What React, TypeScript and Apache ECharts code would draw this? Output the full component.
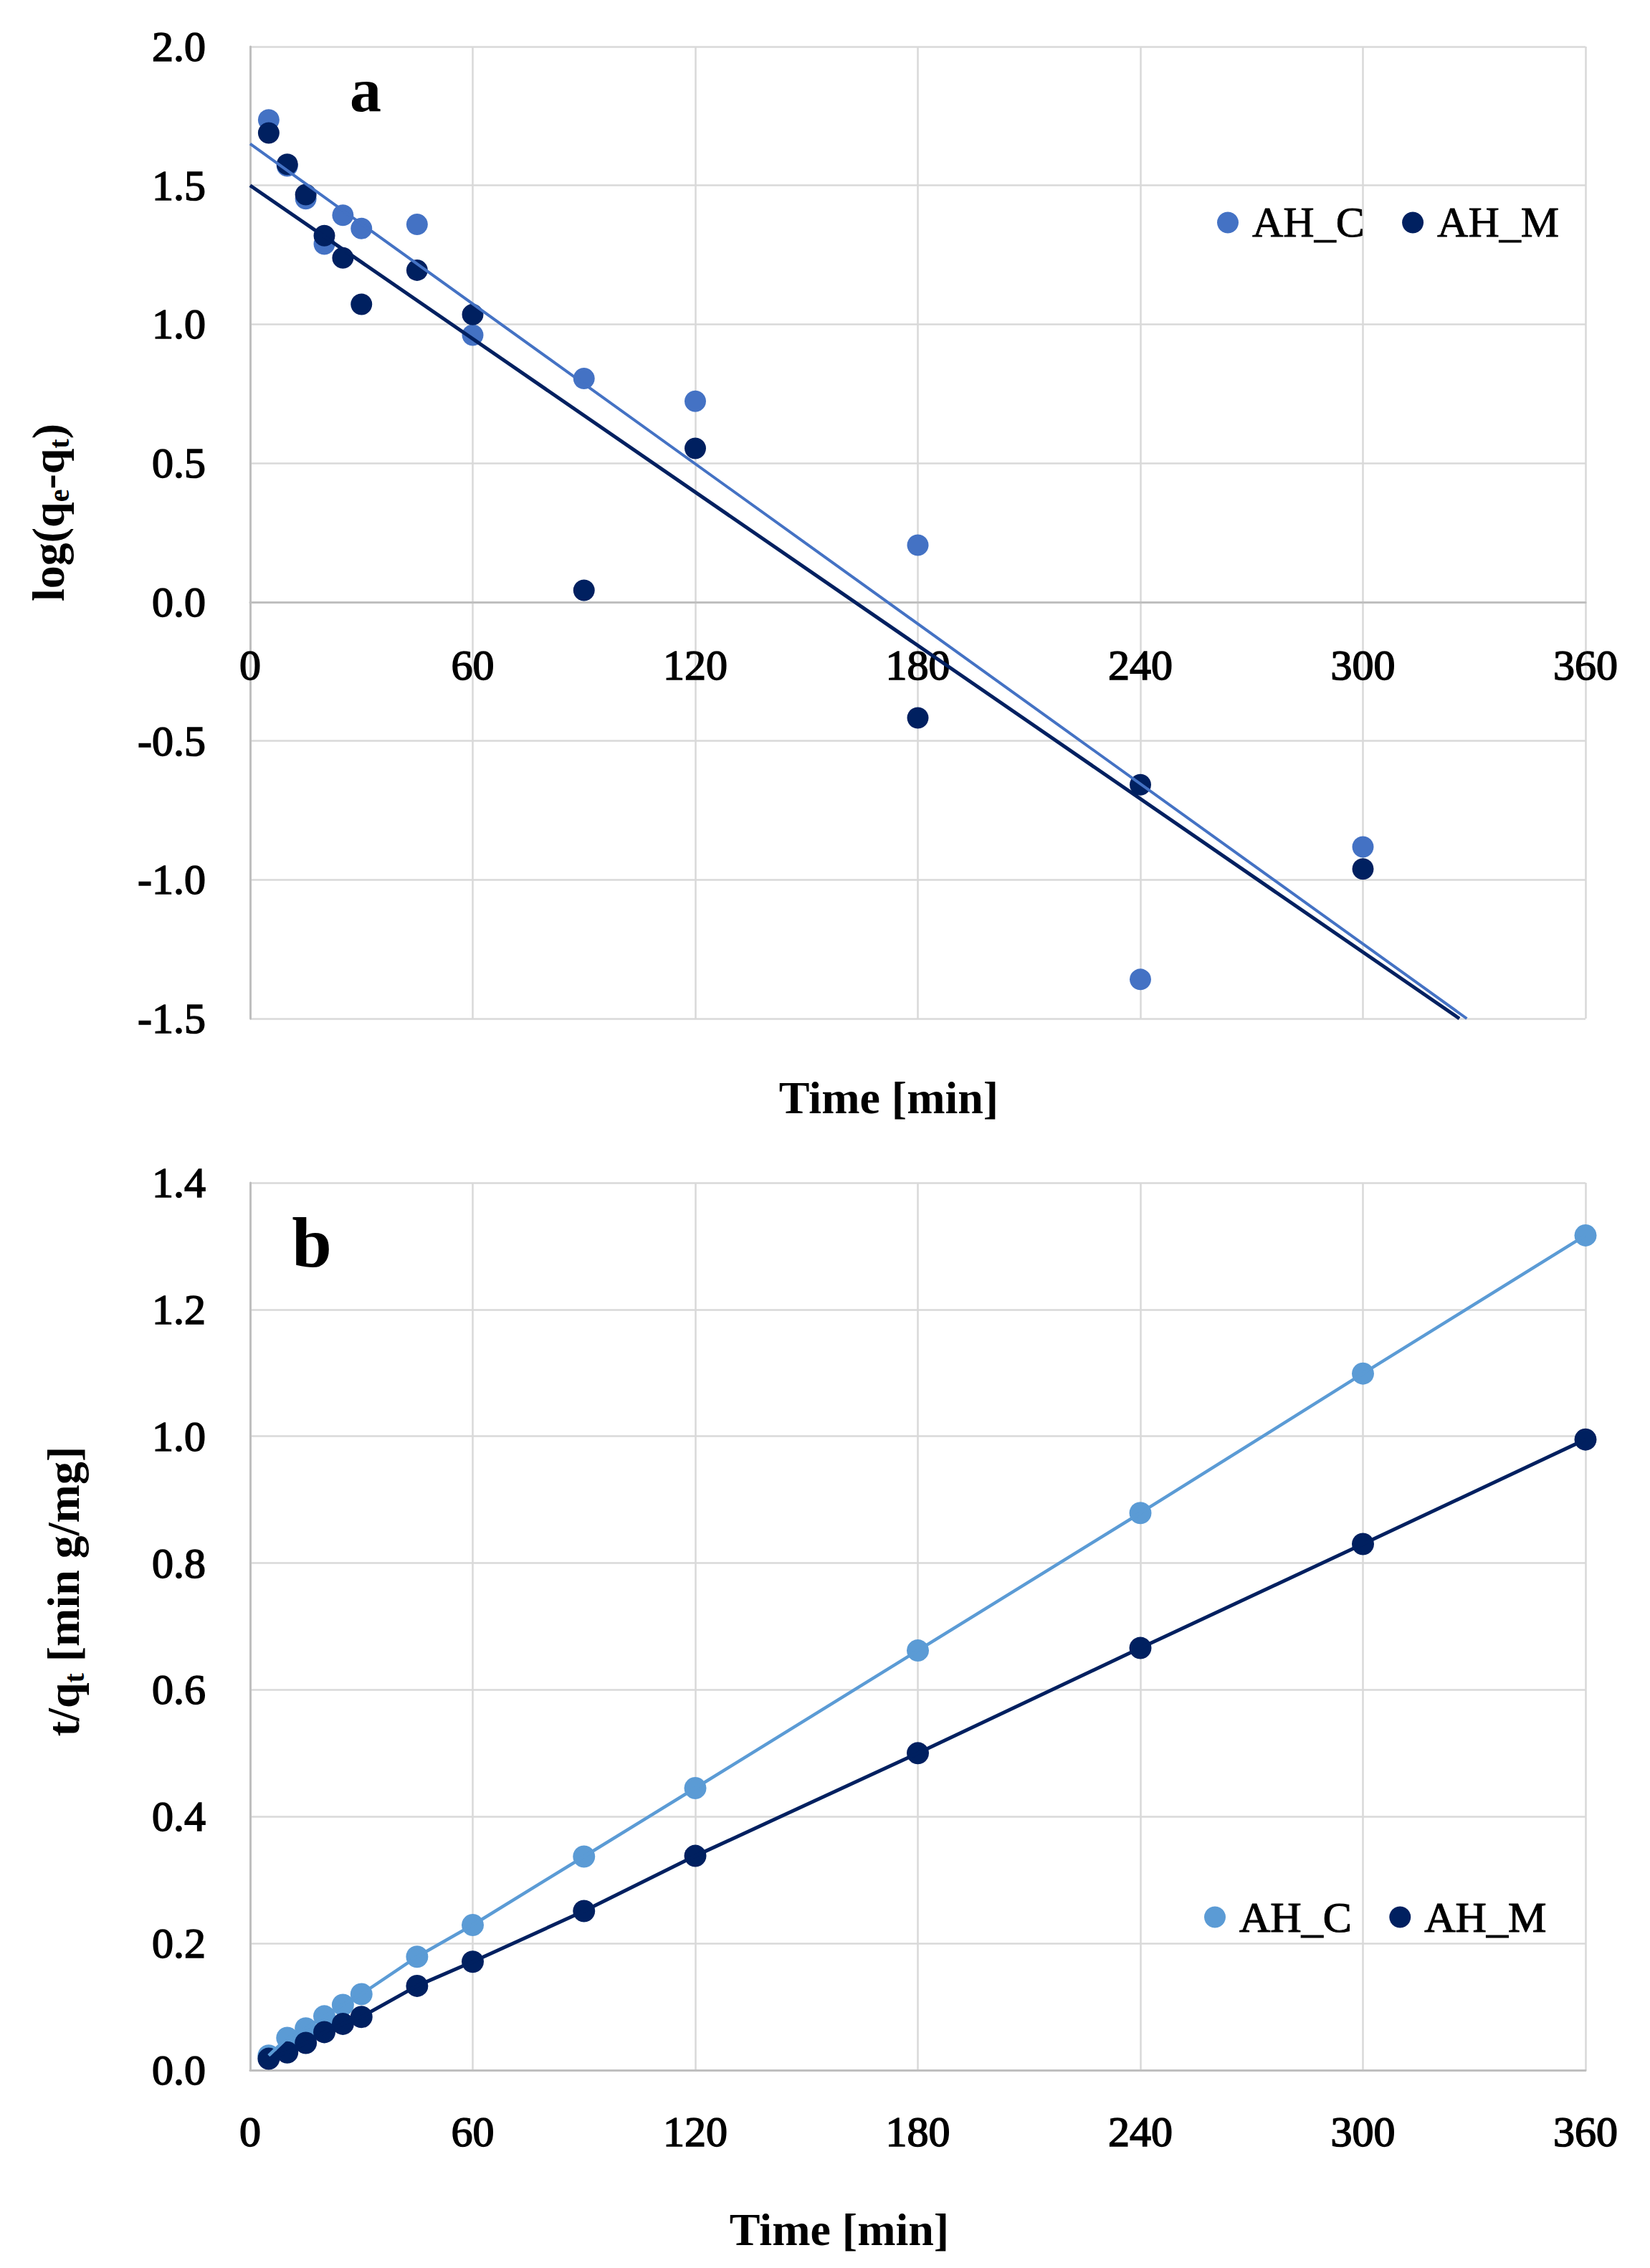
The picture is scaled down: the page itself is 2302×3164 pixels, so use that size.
import React, { useEffect, useRef } from "react";
import * as echarts from "echarts";

// ---------- Panel a: pseudo-first-order, log(qe - qt) ----------
const timesA = [5, 10, 15, 20, 25, 30, 45, 60, 90, 120, 180, 240, 300];
const logAHC = [1.736, 1.57, 1.452, 1.289, 1.393, 1.345, 1.36, 0.961, 0.805, 0.723, 0.205, -1.359, -0.882];
const logAHM = [1.689, 1.576, 1.467, 1.319, 1.239, 1.072, 1.195, 1.035, 0.042, 0.553, -0.417, -0.658, -0.961];
// linear trend lines (start / end)
const trendCX = [0, 328];
const trendCY = [1.65, -1.5];
const trendMX = [0, 326];
const trendMY = [1.5, -1.5];

// ---------- Panel b: pseudo-second-order, t/qt ----------
const timesB = [5, 10, 15, 20, 25, 30, 45, 60, 90, 120, 180, 240, 300, 360];
const tqAHC = [0.023, 0.051, 0.066, 0.085, 0.103, 0.12, 0.179, 0.229, 0.337, 0.445, 0.662, 0.879, 1.099, 1.317];
const tqAHM = [0.018, 0.028, 0.043, 0.06, 0.073, 0.084, 0.133, 0.171, 0.251, 0.338, 0.5, 0.666, 0.83, 0.995];

const xTicks = [0, 60, 120, 180, 240, 300, 360];
const yTicksA = [-1.5, 2.0, 0.5];
const yTicksB = [0, 1.4, 0.2];

const FONT = "Liberation Serif";
const C_A = "#4472C4";
const C_B = "#5B9BD5";
const C_M = "#002060";
const GRID_C = "#d9d9d9";
const AXIS_C = "#bfbfbf";

const pairs = (xs: number[], ys: number[]) => xs.map((x, i) => [x, ys[i]]);

export default function App() {
  const ref = useRef<HTMLDivElement>(null);
  useEffect(() => {
    if (!ref.current) return;
    const chart = echarts.init(ref.current, null, { renderer: "svg" });
    const tickLabel = {
      fontFamily: FONT, fontSize: 60, color: "#000",
      textBorderColor: "#000", textBorderWidth: 1.6,
    };
    const xAxisBase = (gridIndex: number, margin: number, showLabel: boolean) => ({
      type: "value",
      gridIndex,
      min: xTicks[0],
      max: xTicks[xTicks.length - 1],
      interval: xTicks[1] - xTicks[0],
      axisLine: { show: true, onZero: true, lineStyle: { color: AXIS_C, width: 3 } },
      axisTick: { show: false },
      axisLabel: { ...tickLabel, margin, show: showLabel },
      splitLine: { show: true, lineStyle: { color: GRID_C, width: 2.5 } },
    });
    const yAxisBase = (gridIndex: number, t: number[]) => ({
      type: "value",
      gridIndex,
      min: t[0],
      max: t[1],
      interval: t[2],
      axisLine: { show: true, onZero: false, lineStyle: { color: AXIS_C, width: 3 } },
      axisTick: { show: false },
      axisLabel: { ...tickLabel, margin: 62, formatter: (v: number) => v.toFixed(1) },
      splitLine: { show: true, lineStyle: { color: GRID_C, width: 2.5 } },
    });
    const legendBase = (left: number, top: number, cC: string, bw: number) => ({
      left,
      top,
      orient: "horizontal",
      padding: 0,
      itemWidth: 30,
      itemHeight: 30,
      itemGap: 52,
      textStyle: {
        fontFamily: FONT, fontSize: 60, color: "#000", padding: [0, 0, 0, 14], lineHeight: 60,
        textBorderColor: "#000", textBorderWidth: bw,
      },
      selectedMode: false,
      data: [
        { name: "AH_C", icon: "circle", itemStyle: { color: cC } },
        { name: "AH_M", icon: "circle", itemStyle: { color: C_M } },
      ],
    });
    const subRich = {
      s: { fontFamily: FONT, fontSize: 40, fontWeight: "bold", fill: "#000", padding: [30, 0, 0, 0] },
    };
    const titleStyle = (text: string) => ({
      text,
      fontFamily: FONT,
      fontSize: 64,
      fontWeight: "bold",
      fill: "#000",
      align: "center",
      verticalAlign: "middle",
      rich: subRich,
    });
    const option: any = {
      animation: false,
      backgroundColor: "#fff",
      grid: [
        { left: 349, top: 65, width: 1863, height: 1356, containLabel: false },
        { left: 349, top: 1650, width: 1863, height: 1238, containLabel: false },
        // label-only grid whose bottom edge sits on the zero line of panel a
        { left: 349, top: 65, width: 1863, height: 775, containLabel: false },
      ],
      xAxis: [
        xAxisBase(0, 58, false),
        xAxisBase(1, 56, true),
        {
          ...xAxisBase(2, 58, true),
          axisLine: { show: false },
          splitLine: { show: false },
        },
      ],
      yAxis: [
        yAxisBase(0, yTicksA),
        yAxisBase(1, yTicksB),
        { type: "value", gridIndex: 2, min: 0, max: 1, show: false },
      ],
      legend: [legendBase(1698, 280, C_A, 0.8), legendBase(1680, 2644, C_B, 1.2)],
      series: [
        {
          type: "scatter", name: "AH_C", xAxisIndex: 0, yAxisIndex: 0,
          data: pairs(timesA, logAHC), symbol: "circle", symbolSize: 30,
          itemStyle: { color: C_A, opacity: 1 }, z: 2,
        },
        {
          type: "scatter", name: "AH_M", xAxisIndex: 0, yAxisIndex: 0,
          data: pairs(timesA, logAHM), symbol: "circle", symbolSize: 30,
          itemStyle: { color: C_M, opacity: 1 }, z: 2,
        },
        {
          type: "line", name: "trend C", xAxisIndex: 0, yAxisIndex: 0,
          data: pairs(trendCX, trendCY), symbol: "none", silent: true,
          lineStyle: { color: C_A, width: 4 }, z: 3,
        },
        {
          type: "line", name: "trend M", xAxisIndex: 0, yAxisIndex: 0,
          data: pairs(trendMX, trendMY), symbol: "none", silent: true,
          lineStyle: { color: C_M, width: 5 }, z: 3,
        },
        {
          type: "scatter", name: "AH_C", xAxisIndex: 1, yAxisIndex: 1,
          data: pairs(timesB, tqAHC), symbol: "circle", symbolSize: 31,
          itemStyle: { color: C_B, opacity: 1 }, z: 2,
        },
        {
          type: "scatter", name: "AH_M", xAxisIndex: 1, yAxisIndex: 1,
          data: pairs(timesB, tqAHM), symbol: "circle", symbolSize: 31,
          itemStyle: { color: C_M, opacity: 1 }, z: 2,
        },
        {
          type: "line", name: "fit C", xAxisIndex: 1, yAxisIndex: 1,
          data: pairs(timesB, tqAHC), symbol: "none", silent: true,
          lineStyle: { color: C_B, width: 4.5 }, z: 3,
        },
        {
          type: "line", name: "fit M", xAxisIndex: 1, yAxisIndex: 1,
          data: pairs(timesB, tqAHM), symbol: "none", silent: true,
          lineStyle: { color: C_M, width: 5 }, z: 3,
        },
      ],
      graphic: [
        { type: "text", x: 510, y: 125, style: { ...titleStyle("a"), fontSize: 88 } },
        { type: "text", x: 435, y: 1733, style: { ...titleStyle("b"), fontSize: 100 } },
        { type: "text", x: 1240, y: 1531, style: titleStyle("Time [min]") },
        { type: "text", x: 1171, y: 3110, style: titleStyle("Time [min]") },
        { type: "text", x: 67, y: 715, rotation: Math.PI / 2, style: titleStyle("log(q{s|e}-q{s|t})") },
        { type: "text", x: 88, y: 2220, rotation: Math.PI / 2, style: titleStyle("t/q{s|t} [min g/mg]") },
      ],
    };
    chart.setOption(option);
    return () => chart.dispose();
  }, []);
  return (
    <div
      ref={ref}
      style={{ position: "absolute", left: 0, top: 0, width: 2302, height: 3164, background: "#fff" }}
    />
  );
}
